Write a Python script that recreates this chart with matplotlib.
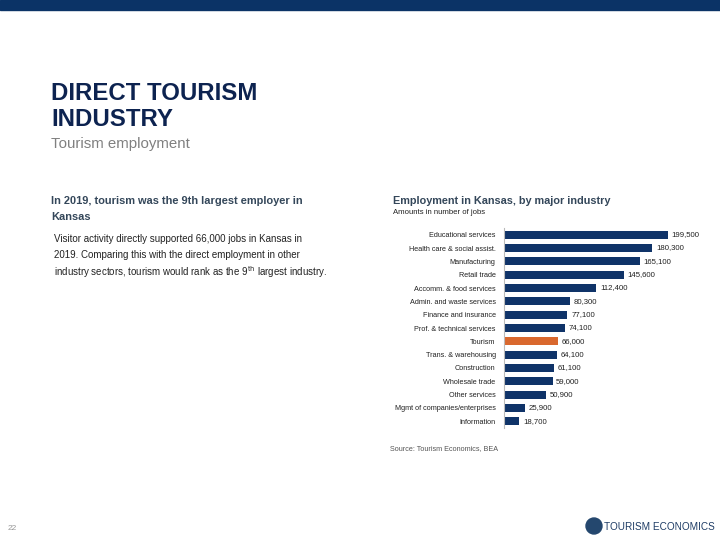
import matplotlib.pyplot as plt
from matplotlib.patches import Rectangle, Ellipse

plt.rcParams['font.family'] = ['Liberation Sans', 'DejaVu Sans']

# Kansas employment by major industry, 2019
industries = ["Educational services", "Health care & social assist.", "Manufacturing",
              "Retail trade", "Accomm. & food services", "Admin. and waste services",
              "Finance and insurance", "Prof. & technical services", "Tourism",
              "Trans. & warehousing", "Construction", "Wholesale trade", "Other services",
              "Mgmt of companies/enterprises", "Information"]
jobs = [199500, 180300, 165100, 145600, 112400, 80300, 77100, 74100, 66000,
        64100, 61100, 59000, 50900, 25900, 18700]
highlight = "Tourism"

navy = "#0f3368"
orange = "#d9682e"

fig = plt.figure(figsize=(7.2, 5.4), dpi=100)

# top band
fig.patches.append(Rectangle((0, 1 - 10 / 540), 1, 10 / 540, transform=fig.transFigure,
                             color="#0b3366", zorder=0))

fig.text(51 / 720, 1 - 93 / 540, "DIRECT TOURISM", fontsize=17.3, fontweight="bold",
         color="#0d2350", va="center")
fig.text(51 / 720, 1 - 119 / 540, "INDUSTRY", fontsize=17.3, fontweight="bold",
         color="#0d2350", va="center")
fig.text(51 / 720, 1 - 144 / 540, "Tourism employment", fontsize=10.8, color="#808080", va="center")

fig.text(51 / 720, 1 - 201 / 540, "In 2019, tourism was the 9th largest employer in",
         fontsize=7.9, fontweight="bold", color="#34475a", va="center")
fig.text(51 / 720, 1 - 217 / 540, "Kansas", fontsize=7.9, fontweight="bold", color="#34475a", va="center")
body = ["Visitor activity directly supported 66,000 jobs in Kansas in",
        "2019. Comparing this with the direct employment in other",
        "industry sectors, tourism would rank as the 9$^{\\mathrm{th}}$ largest industry."]
for i, line in enumerate(body):
    fig.text(54 / 720, 1 - (239 + 16.5 * i) / 540, line, fontsize=7.0, color="#222222", va="center")

fig.text(393 / 720, 1 - 201 / 540, "Employment in Kansas, by major industry", fontsize=7.8,
         fontweight="bold", color="#34475a", va="center")
fig.text(393 / 720, 1 - 213 / 540, "Amounts in number of jobs", fontsize=5.6, color="#222222", va="center")

ax = fig.add_axes([504 / 720, (540 - 428) / 540, 190 / 720, 200 / 540])
ypos = list(range(len(industries)))
colors = [orange if n == highlight else navy for n in industries]
ax.barh(ypos, jobs, height=0.58, color=colors)
ax.set_ylim(len(industries) - 0.5, -0.5)
ax.set_xlim(0, 231000)
ax.set_yticks(ypos)
ax.set_yticklabels(industries, fontsize=5.2, color="#222222")
ax.tick_params(axis="y", length=0, pad=6)
ax.set_xticks([])
for s in ["top", "right", "bottom"]:
    ax.spines[s].set_visible(False)
ax.spines["left"].set_color("#bbbbbb")
ax.spines["left"].set_linewidth(0.8)
for y, v in zip(ypos, jobs):
    ax.text(v + 4500, y, f"{v:,}", fontsize=5.6, color="#222222", va="center")

fig.text(390 / 720, 1 - 449 / 540, "Source: Tourism Economics, BEA", fontsize=5.2,
         color="#555555", va="center")

fig.text(8 / 720, 1 - 529 / 540, "22", fontsize=6, color="#999999", va="center")
fig.patches.append(Ellipse((594 / 720, 1 - 526 / 540), 16 / 720, 16 / 540, transform=fig.transFigure,
                           color="#24476e", zorder=2))
fig.text(604 / 720, 1 - 527 / 540, "TOURISM ECONOMICS", fontsize=7.2, color="#1f3d66", va="center")

fig.savefig("out.png", dpi=100)
